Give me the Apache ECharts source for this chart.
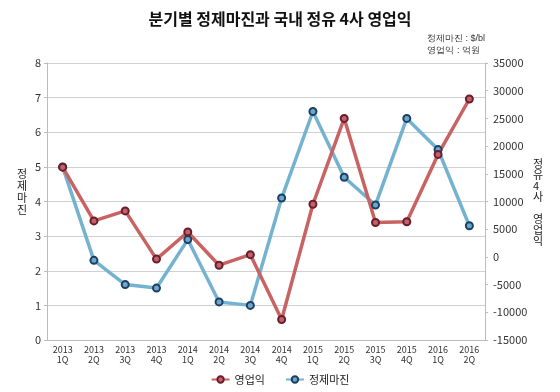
<!DOCTYPE html>
<html>
<head>
<meta charset="utf-8">
<script src="https://cdn.jsdelivr.net/npm/echarts@6/dist/echarts.min.js"></script>
<style>
html,body{margin:0;padding:0;background:#fff;}
#c{width:560px;height:392px;}
</style>
</head>
<body>
<div id="c"></div>
<script>
var categories = ['2013\n1Q','2013\n2Q','2013\n3Q','2013\n4Q','2014\n1Q','2014\n2Q','2014\n3Q','2014\n4Q','2015\n1Q','2015\n2Q','2015\n3Q','2015\n4Q','2016\n1Q','2016\n2Q'];
var margin = [5.0, 2.3, 1.6, 1.5, 2.9, 1.1, 1.0, 4.1, 6.6, 4.7, 3.9, 6.4, 5.5, 3.3];
var profit = [16200, 6500, 8300, -400, 4500, -1500, 400, -11300, 9500, 25000, 6200, 6350, 18500, 28500];
var leftTicks = {min: 0, max: 8, interval: 1};
var rightTicks = {min: -15000, max: 35000, interval: 5000};

var FONT = '"Noto Sans CJK KR", "Noto Sans", sans-serif';
var chart = echarts.init(document.getElementById('c'), null, {renderer: 'canvas'});
chart.setOption({
  animation: false,
  textStyle: {fontFamily: FONT},
  title: {
    text: '분기별 정제마진과 국내 정유 4사 영업익',
    left: 'center', top: 6,
    textStyle: {fontSize: 16, fontWeight: 'bold', color: '#111', fontFamily: FONT}
  },
  graphic: [
    {type: 'text', right: 75, top: 34, style: {text: '정제마진 : $/bl', fontSize: 9, fill: '#333', font: '9px ' + FONT}},
    {type: 'text', right: 80, top: 46, style: {text: '영업익 : 억원', fontSize: 9, fill: '#333', font: '9px ' + FONT}},
    {type: 'text', left: 17, top: 168, style: {text: '정\n제\n마\n진', font: '11px ' + FONT, fill: '#222', lineHeight: 12, align: 'center'}},
    {type: 'text', left: 533, top: 158, style: {text: '정\n유\n4\n사\n\n영\n업\n익', font: '11px ' + FONT, fill: '#222', lineHeight: 11, align: 'center'}}
  ],
  legend: {
    bottom: 2, left: 'center',
    data: ['영업익', '정제마진'],
    itemWidth: 18, itemHeight: 8, itemGap: 20,
    textStyle: {fontSize: 11, color: '#222', fontFamily: FONT}
  },
  grid: {left: 47, right: 75, top: 63, bottom: 52},
  xAxis: {
    type: 'category',
    data: categories,
    boundaryGap: true,
    axisLine: {lineStyle: {color: '#bbb'}},
    axisTick: {show: false},
    axisLabel: {fontSize: 9, color: '#333', lineHeight: 10, interval: 0, margin: 5}
  },
  yAxis: [
    {
      type: 'value', min: leftTicks.min, max: leftTicks.max, interval: leftTicks.interval,
      axisLine: {show: true, lineStyle: {color: '#bbb'}},
      axisTick: {show: true, length: 3, lineStyle: {color: '#bbb'}},
      axisLabel: {fontSize: 11, color: '#333', margin: 6},
      splitLine: {lineStyle: {color: '#d0d0d0'}}
    },
    {
      type: 'value', min: rightTicks.min, max: rightTicks.max, interval: rightTicks.interval,
      position: 'right',
      axisLine: {show: true, lineStyle: {color: '#bbb'}},
      axisTick: {show: true, length: 3, lineStyle: {color: '#bbb'}},
      axisLabel: {fontSize: 11, color: '#333', margin: 8, formatter: function (v) { return String(v); }},
      splitLine: {show: false}
    }
  ],
  series: [
    {
      name: '정제마진', type: 'line', yAxisIndex: 0, data: margin,
      symbol: 'circle', symbolSize: 7,
      lineStyle: {color: '#74b3d0', width: 3.5},
      itemStyle: {color: '#6ea8c8', borderColor: '#1c3f66', borderWidth: 2}
    },
    {
      name: '영업익', type: 'line', yAxisIndex: 1, data: profit,
      symbol: 'circle', symbolSize: 7,
      lineStyle: {color: '#c96363', width: 3.5},
      itemStyle: {color: '#c06070', borderColor: '#6a1e28', borderWidth: 2}
    }
  ]
});
</script>
</body>
</html>
